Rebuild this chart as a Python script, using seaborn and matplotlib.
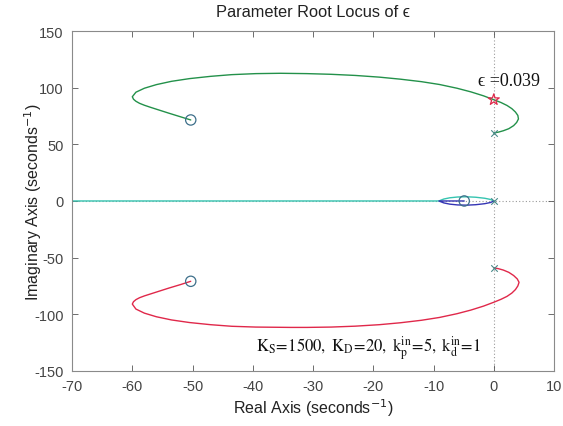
import matplotlib
matplotlib.use("Agg")
import matplotlib.pyplot as plt
import seaborn as sns
import pandas as pd

# ---- data ----
green_re = [0.0, 0.8, 1.6, 2.5, 3.3, 3.8, 4.1, 4.0, 3.6, 3.0, 2.2, 1.2, 0.0, -1.7, -3.8, -6.1, -9.0, -12.0, -15.5, -19.0, -23.0, -27.0, -31.0, -35.4, -39.5, -43.5, -47.0, -50.5, -53.5, -56.0, -58.0, -59.4, -60.0, -59.8, -59.4, -58.8, -58.0, -57.0, -56.0, -54.0, -52.0, -50.3]
green_im = [60.0, 60.8, 62.0, 63.8, 66.5, 69.3, 72.4, 75.5, 78.5, 81.5, 84.3, 86.9, 89.4, 92.8, 96.3, 99.5, 102.8, 105.3, 107.5, 109.3, 110.8, 111.8, 112.4, 112.7, 112.4, 111.5, 110.0, 108.0, 105.6, 102.7, 99.5, 96.0, 92.0, 89.8, 88.0, 86.2, 84.5, 82.7, 81.0, 77.6, 74.3, 71.5]
red_re = [0.0, 0.8, 1.6, 2.5, 3.3, 3.9, 4.2, 4.0, 3.6, 3.0, 2.2, 1.2, 0.0, -1.7, -3.8, -6.1, -9.0, -12.0, -15.5, -19.0, -23.0, -27.0, -31.0, -33.7, -39.5, -43.5, -47.0, -50.5, -53.5, -56.0, -58.0, -59.4, -60.0, -59.8, -59.4, -58.8, -58.0, -57.0, -56.0, -54.0, -52.0, -50.3]
red_im = [-59.0, -59.8, -61.0, -63.0, -65.8, -68.8, -71.8, -75.0, -78.2, -81.3, -84.2, -86.8, -89.4, -92.8, -96.3, -99.5, -102.8, -105.3, -107.5, -109.2, -110.5, -111.3, -111.6, -111.6, -111.3, -110.6, -109.2, -107.3, -105.0, -102.2, -99.0, -95.4, -91.0, -88.9, -87.1, -85.4, -83.8, -82.1, -80.4, -77.0, -73.8, -70.9]
cyan_re = [0.0, -0.5, -1.5, -3.0, -4.5, -6.0, -7.3, -8.3, -9.1, -75.0]
cyan_im = [0.0, 1.3, 2.4, 3.3, 3.7, 3.5, 2.8, 1.7, 0.0, 0.0]
blue_re = [0.0, -0.5, -1.5, -3.0, -4.5, -6.0, -7.3, -8.3, -9.1, -4.9]
blue_im = [0.0, -1.3, -2.4, -3.3, -3.7, -3.5, -2.8, -1.7, 0.0, 0.0]
poles_re = [0.0, 0.0, 0.0]
poles_im = [60.0, -59.0, 0.0]
zeros_re = [-50.3, -50.3, -4.9]
zeros_im = [71.5, -70.9, 0.0]
star_re = [0.0]
star_im = [89.4]
eps_label = "0.039"
params_text = r"$\mathrm{K_S\!=\!1500,\ K_D\!=\!20,\ k_p^{in}\!=\!5,\ k_d^{in}\!=\!1}$"

sns.set_theme(style="white")
plt.rcParams['font.family'] = ['Liberation Sans', 'DejaVu Sans']
plt.rcParams['axes.unicode_minus'] = False

fig = plt.figure(figsize=(5.63, 4.27), dpi=100)
ax = fig.add_axes([0.128, 0.129, 0.856, 0.796])

def branch(re, im, color):
    df = pd.DataFrame({"re": re, "im": im})
    sns.lineplot(data=df, x="re", y="im", sort=False, estimator=None,
                 color=color, lw=1.0, ax=ax)

ax.axhline(0, color="#9a9a9a", lw=0.8, ls=(0, (1, 2)), zorder=0)
ax.axvline(0, color="#9a9a9a", lw=0.8, ls=(0, (1, 2)), zorder=0)

branch(cyan_re, cyan_im, "#35c4b0")
branch(blue_re, blue_im, "#3434b4")
branch(green_re, green_im, "#23914a")
branch(red_re, red_im, "#e0284a")

sns.scatterplot(x=poles_re, y=poles_im, marker="x", color="#4a8a8a", s=22,
                linewidth=0.8, ax=ax, zorder=5)
sns.scatterplot(x=zeros_re, y=zeros_im, marker="o", facecolor="none",
                edgecolor="#3d6f8a", s=55, linewidth=0.9, ax=ax, zorder=5)
sns.scatterplot(x=star_re, y=star_im, marker="*", facecolor="none",
                edgecolor="#e0284a", s=70, linewidth=0.9, ax=ax, zorder=6)

ax.text(-2.6, 106, "\u03f5 =" + eps_label, fontsize=13,
        family=["Liberation Serif", "DejaVu Serif"],
        ha="left", va="center", color="#111111")
ax.text(-39.5, -129, params_text, fontsize=12, math_fontfamily="stix",
        ha="left", va="center", color="#111111")

ax.set_xlim(-70, 10)
ax.set_ylim(-150, 150)
ax.set_xticks(range(-70, 11, 10))
ax.set_yticks(range(-150, 151, 50))
ax.set_title("Parameter Root Locus of \u03f5", fontsize=11.8, color="#222222", pad=11)
ax.set_xlabel(r"Real Axis (seconds$^{-1}$)", fontsize=11.5, color="#222222", labelpad=2)
ax.set_ylabel(r"Imaginary Axis (seconds$^{-1}$)", fontsize=11.5, color="#222222", labelpad=-7)
ax.tick_params(axis="both", labelsize=10.5, labelcolor="#444444", direction="in",
               length=4, width=0.6, color="#555555", bottom=True, left=True,
               top=True, right=True, pad=6)
for s in ax.spines.values():
    s.set_color("#8a8a8a")
    s.set_linewidth(0.8)

fig.savefig("out.png", dpi=100)
